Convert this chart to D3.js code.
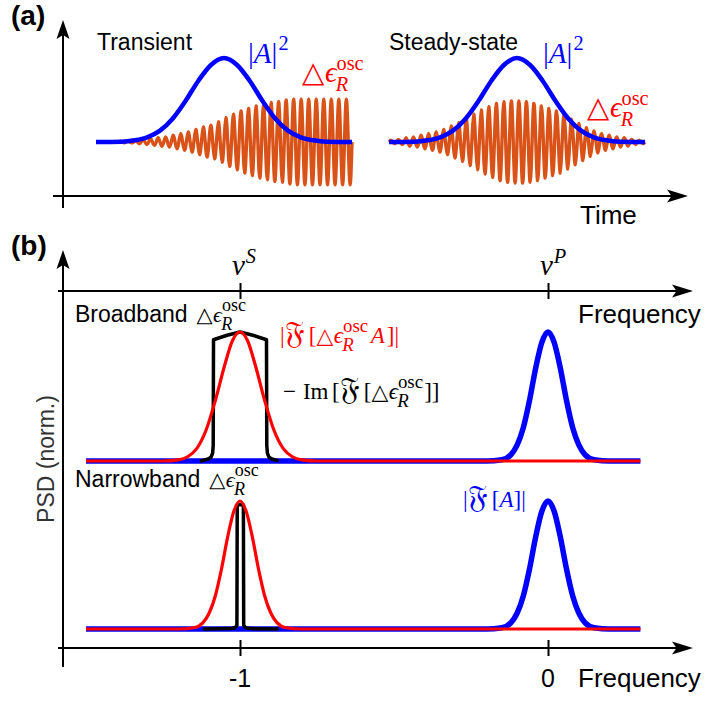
<!DOCTYPE html>
<html>
<head>
<meta charset="utf-8">
<script src="https://cdn.jsdelivr.net/npm/d3@7"></script>
<style>
	body{margin:0;background:#fff;}
	svg{display:block;}
	text{font-family:"Liberation Sans", Arial, sans-serif;}
</style>
</head>
<body>
<svg id="fig" width="707" height="702"></svg>
<script>
(function(){

	// ---- data ----
	// panel (a): pulse intensity |A|^2, time in % of each window, height normalised
	var pulse = [[0,0],[10,0.004],[15,0.02],[20,0.056],[25,0.135],[30,0.28],[35,0.49],[40,0.73],[45,0.92],[50,1],
		[55,0.92],[60,0.73],[65,0.49],[70,0.28],[75,0.135],[80,0.056],[85,0.02],[90,0.004],[100,0]];
	// amplitude of each oscillation cycle of the Raman permittivity
	var oscTransient = [0,0,0,0.01,0.01,0.02,0.03,0.04,0.05,0.06,0.08,0.10,0.12,0.15,0.18,0.20,0.24,
		0.29,0.33,0.37,0.40,0.43,0.45,0.47,0.48,0.50,0.51,0.51,0.51,0.51,0.51,0.51,0.51,0.51];
	var oscSteady = [0.02,0.03,0.05,0.06,0.08,0.10,0.12,0.15,0.19,0.23,0.28,0.33,0.38,0.42,0.46,0.48,0.49,
		0.49,0.48,0.46,0.43,0.40,0.37,0.32,0.27,0.22,0.17,0.13,0.10,0.08,0.06,0.05,0.03,0.02];

	// panel (b): spectra, frequency relative to the pump, PSD normalised
	var freqTicks = [-1, 0];
	var freqTickLabels = ["-1", "0"];
	var freqTickNames = ["S", "P"];
	var specBlue = [[-1.5,0],[-0.2,0],[-0.15,0.01],[-0.12,0.05],[-0.1,0.125],[-0.08,0.26],[-0.06,0.47],[-0.04,0.72],[-0.02,0.92],[0,1],
		[0.02,0.92],[0.04,0.72],[0.06,0.47],[0.08,0.26],[0.1,0.125],[0.12,0.05],[0.15,0.01],[0.2,0],[0.3,0]];
	var specRedBroad = [[-1.5,0],[-1.25,0],[-1.2,0.009],[-1.17,0.033],[-1.14,0.098],[-1.11,0.24],[-1.08,0.47],[-1.05,0.74],[-1.025,0.93],[-1,1],
		[-0.975,0.93],[-0.95,0.74],[-0.92,0.47],[-0.89,0.24],[-0.86,0.098],[-0.83,0.033],[-0.8,0.009],[-0.75,0],[0.3,0]];
	var specBlackBroad = [[-1.13,0],[-1.12,0.005],[-1.104,0.015],[-1.094,0.03],[-1.089,0.06],[-1.087,0.12],[-1.086,0.94],
		[-1.042,0.975],[-1,1],[-0.958,0.975],[-0.914,0.94],[-0.913,0.12],[-0.911,0.06],[-0.906,0.03],[-0.896,0.015],[-0.88,0.005],[-0.875,0]];
	var specRedNarrow = [[-1.5,0],[-1.2,0],[-1.15,0.01],[-1.12,0.05],[-1.1,0.125],[-1.08,0.26],[-1.06,0.47],[-1.04,0.72],[-1.02,0.92],[-1,1],
		[-0.98,0.92],[-0.96,0.72],[-0.94,0.47],[-0.92,0.26],[-0.9,0.125],[-0.88,0.05],[-0.85,0.01],[-0.8,0],[0.3,0]];
	var specBlackNarrow = [[-1.12,0],[-1.03,0.003],[-1.016,0.01],[-1.01,0.03],[-1.009,0.97],[-0.989,0.97],[-0.988,0.03],[-0.982,0.01],[-0.965,0.003],[-0.875,0]];

	var COL = {blue:"#0000ff", red:"#ff0000", orange:"#d95319", black:"#000"};
	var SERIF = "'Liberation Serif','DejaVu Serif',serif";

	var svg = d3.select("#fig");
	svg.append("rect").attr("width",707).attr("height",702).attr("fill","#fff");

	// ---- scales ----
	var xT = d3.scaleLinear().domain([0,100]).range([96,352]);
	var xS = d3.scaleLinear().domain([0,100]).range([389,645]);
	var yA = d3.scaleLinear().domain([0,1]).range([142,58]);
	var fx = d3.scaleLinear().domain([-1,0]).range([240,548]);
	var yB1 = d3.scaleLinear().domain([0,1]).range([461,332]);
	var yB2 = d3.scaleLinear().domain([0,1]).range([629,501]);

	var wave = function(amps){
		var per = 100/amps.length, pts = [];
		amps.forEach(function(a,i){
			var t0 = i*per;
			pts.push([t0,0],[t0+per/4,a],[t0+per/2,0],[t0+3*per/4,-a]);
		});
		pts.push([100,0]);
		return pts;
	}

	var curve = function(x, y, c){
		return d3.line().x(function(d){return x(d[0])}).y(function(d){return y(d[1])}).curve(c || d3.curveMonotoneX);
	}

	var arrowUp = function(x, y){
		svg.append("path").attr("d","M"+x+","+y+" l-6.5,19 l6.5,-4 l6.5,4 z").attr("fill","#000");
	}
	var arrowRight = function(x, y){
		svg.append("path").attr("d","M"+x+","+y+" l-21,-6.5 l4.5,6.5 l-4.5,6.5 z").attr("fill","#000");
	}
	var hline = function(x1, x2, y){
		svg.append("line").attr("x1",x1).attr("x2",x2).attr("y1",y).attr("y2",y).attr("stroke","#000").attr("stroke-width",2);
	}
	var vline = function(x, y1, y2){
		svg.append("line").attr("x1",x).attr("x2",x).attr("y1",y1).attr("y2",y2).attr("stroke","#000").attr("stroke-width",2);
	}

	// lays out math tokens left to right; tokens may carry stacked sup / sub
	var mathRow = function(x, y, size, color, tokens, scr){
		scr = scr || 0.7;
		var g = svg.append("g").attr("fill",color).style("font-family",SERIF);
		var cx = x;
		tokens.forEach(function(tk){
			cx += (tk.pre||0)*size;
			var w = 0;
			if(tk.s){
				var t = g.append("text").attr("x",cx).attr("y",y).style("font-family",tk.font||SERIF)
					.style("font-size",size*(tk.scale||1)+"px").style("font-style",tk.it?"italic":"normal").text(tk.s);
				w = t.node().getComputedTextLength();
			}
			cx += w;
			var sw = 0, bw = 0;
			if(tk.sup){
				var s = g.append("text").attr("x",cx+(tk.supdx||0)*size).attr("y",y-(tk.supdy||0.42)*size).style("font-family",SERIF)
					.style("font-size",size*scr+"px").style("font-style",tk.supit?"italic":"normal").text(tk.sup);
				sw = s.node().getComputedTextLength() + (tk.supdx||0)*size;
			}
			if(tk.sub){
				var b = g.append("text").attr("x",cx+(tk.subdx||0)*size).attr("y",y+(tk.subdy||0.3)*size).style("font-family",SERIF)
					.style("font-size",size*scr+"px").style("font-style","italic").text(tk.sub);
				bw = b.node().getComputedTextLength() + (tk.subdx||0)*size;
			}
			cx += Math.max(sw,bw);
		});
		return cx;
	}
	var epsA = [{s:"\u25B3", font:"'DejaVu Sans',sans-serif", scale:1.0},{s:"\u03F5", it:true, pre:0.02, sup:"osc", sub:"R", subdx:-0.03, subdy:0.32}];
	var epsB = [{s:"\u25B3", font:"'DejaVu Sans',sans-serif", scale:0.95},{s:"\u03F5", it:true, pre:0.02, sup:"osc", sub:"R", subdx:-0.03, supdy:0.48, subdy:0.36}];

	// ===== panel (a) =====
	svg.append("text").attr("x",11).attr("y",25).style("font-size","28px").style("font-weight","bold").text("(a)");
	vline(63, 208, 30); arrowUp(63, 20);
	hline(53, 680, 196); arrowRight(688, 196);
	svg.append("text").attr("x",580).attr("y",224).style("font-size","26px").text("Time");

	[[xT, oscTransient],[xS, oscSteady]].forEach(function(p){
		svg.append("path").attr("d", curve(p[0], yA, d3.curveNatural)(wave(p[1])))
			.attr("fill","none").attr("stroke",COL.orange).attr("stroke-width",3.4);
		svg.append("path").attr("d", curve(p[0], yA)(pulse))
			.attr("fill","none").attr("stroke",COL.blue).attr("stroke-width",4.5);
	});

	svg.append("text").attr("x",97).attr("y",50).style("font-size","23px").text("Transient");
	svg.append("text").attr("x",389).attr("y",50).style("font-size","23px").text("Steady-state");
	var absA2 = [{s:"|"},{s:"A", it:true},{s:"|", sup:"2", supdy:0.45, supdx:0.04}];
	mathRow(248, 63, 29, COL.blue, absA2);
	mathRow(543, 63, 29, COL.blue, absA2);
	mathRow(302, 82, 29, COL.red, epsA);
	mathRow(587, 117, 29, COL.red, epsA);

	// ===== panel (b) =====
	svg.append("text").attr("x",11).attr("y",255).style("font-size","28px").style("font-weight","bold").text("(b)");
	vline(63, 667, 262); arrowUp(63, 250);
	hline(58, 685, 291); arrowRight(693, 291);
	hline(58, 685, 648); arrowRight(693, 648);

	[291, 648].forEach(function(y){
		var ax = svg.append("g").attr("transform","translate(0,"+(y-8)+")")
			.call(d3.axisBottom(fx).tickValues(freqTicks).tickSize(16).tickFormat(""));
		ax.select(".domain").remove();
		ax.selectAll(".tick line").attr("stroke","#000").attr("stroke-width",2);
	});
	freqTicks.forEach(function(v,i){
		svg.append("text").attr("x",fx(v)).attr("y",687).attr("text-anchor","middle").style("font-size","25px").text(freqTickLabels[i]);
		mathRow(fx(v)-8, 275, 29, "#000", [{s:"\u03BD", it:true, sup:freqTickNames[i], supit:true, supdy:0.42, supdx:0.03}]);
	});
	svg.append("text").attr("x",578).attr("y",323).style("font-size","26px").text("Frequency");
	svg.append("text").attr("x",578).attr("y",687).style("font-size","26px").text("Frequency");
	svg.append("text").attr("transform","translate(54,459) rotate(-90)").attr("text-anchor","middle")
		.style("font-size","23px").attr("fill","#333").text("PSD (norm.)");

	var drawSpec = function(y, red, black){
		svg.append("path").attr("d", curve(fx, y)(specBlue)).attr("fill","none").attr("stroke",COL.blue).attr("stroke-width",5.5);
		svg.append("path").attr("d", curve(fx, y, d3.curveLinear)(black)).attr("fill","none").attr("stroke",COL.black).attr("stroke-width",3.5)
			.attr("stroke-linejoin","round");
		svg.append("path").attr("d", curve(fx, y)(red)).attr("fill","none").attr("stroke",COL.red).attr("stroke-width",3.2);
	}
	drawSpec(yB1, specRedBroad, specBlackBroad);
	drawSpec(yB2, specRedNarrow, specBlackNarrow);

	var wB = svg.append("text").attr("x",75).attr("y",322).style("font-size","23px").text("Broadband");
	mathRow(75 + wB.node().getComputedTextLength() + 9, 322, 22, "#000", epsB, 0.82);
	var wN = svg.append("text").attr("x",75).attr("y",487).style("font-size","23px").text("Narrowband");
	mathRow(75 + wN.node().getComputedTextLength() + 9, 487, 22, "#000", epsB, 0.82);

	var FR = "\uD835\uDD09";
	var fr = {s:FR, scale:1.35};
	mathRow(280, 343, 23, COL.red, [{s:"|"},fr,{s:"[", pre:0.18}].concat(epsB).concat([{s:"A", it:true, pre:0.12},{s:"]|", pre:0.08}]), 0.82);
	mathRow(283, 399, 23, "#000", [{s:"\u2212", pre:0},{s:"Im", pre:0.3},{s:"[", pre:0.15},fr,{s:"[", pre:0.18}].concat(epsB).concat([{s:"]]", pre:0.05}]), 0.82);
	mathRow(463, 507, 23, COL.blue, [{s:"|"},fr,{s:"[", pre:0.18},{s:"A", it:true},{s:"]|"}]);

})();
</script>
</body>
</html>
